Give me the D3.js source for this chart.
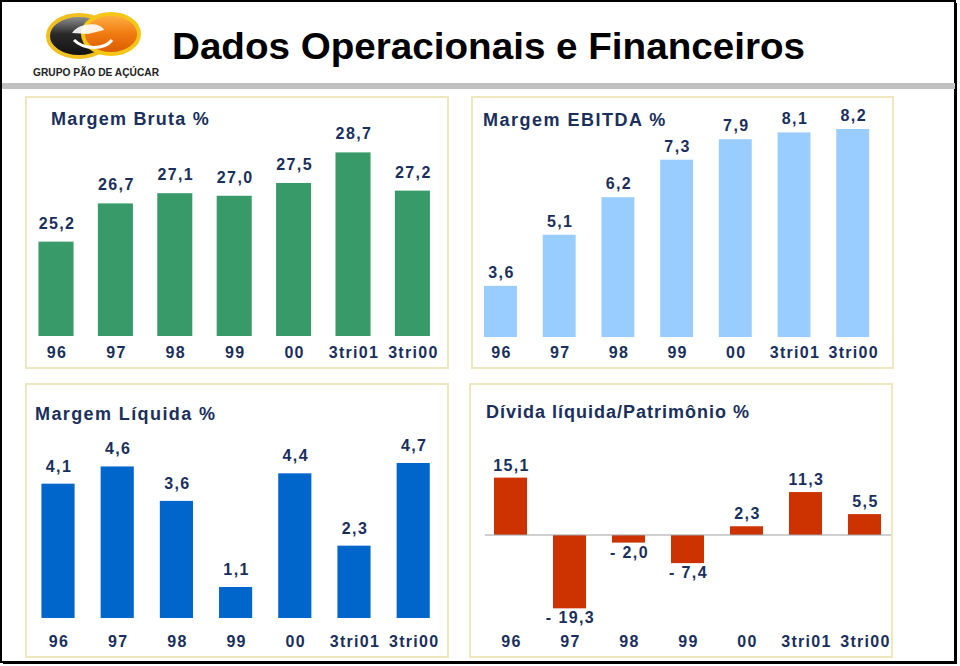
<!DOCTYPE html>
<html>
<head>
<meta charset="utf-8">
<script src="https://cdn.jsdelivr.net/npm/d3@7"></script>
<style>
  html, body { margin: 0; padding: 0; background: #ffffff; }
  svg { display: block; }
</style>
</head>
<body>
<svg id="chart" width="960" height="666"></svg>
<script>
// ---- data ----
const categories = ["96", "97", "98", "99", "00", "3tri01", "3tri00"];
const margemBruta = [25.2, 26.7, 27.1, 27.0, 27.5, 28.7, 27.2];
const margemEbitda = [3.6, 5.1, 6.2, 7.3, 7.9, 8.1, 8.2];
const margemLiquida = [4.1, 4.6, 3.6, 1.1, 4.4, 2.3, 4.7];
const dividaPatrimonio = [15.1, -19.3, -2.0, -7.4, 2.3, 11.3, 5.5];
const panelTitles = ["Margem Bruta %", "Margem EBITDA %", "Margem Líquida %", "Dívida líquida/Patrimônio %"];
const mainTitle = "Dados Operacionais e Financeiros";
const logoText = "GRUPO PÃO DE AÇÚCAR";

const svg = d3.select("#chart");
const navy = "#1a2f5c";
const font = "'Liberation Sans', Arial, sans-serif";

// ---- frame ----
svg.append("rect").attr("x", 1).attr("y", 1).attr("width", 954).attr("height", 661)
  .attr("fill", "#ffffff").attr("stroke", "#000").attr("stroke-width", 2);
svg.append("line").attr("x1", 3).attr("x2", 956).attr("y1", 663).attr("y2", 663)
  .attr("stroke", "#000").attr("stroke-width", 2);
svg.append("line").attr("x1", 956).attr("x2", 956).attr("y1", 3).attr("y2", 664)
  .attr("stroke", "#000").attr("stroke-width", 2);
svg.append("rect").attr("x", 2).attr("y", 83).attr("width", 953).attr("height", 6).attr("fill", "#c0c0c0");

// ---- logo ----
const defs = svg.append("defs");
const gDark = defs.append("linearGradient").attr("id", "gDark").attr("x1", 0).attr("y1", 0).attr("x2", 0).attr("y2", 1);
gDark.append("stop").attr("offset", "0%").attr("stop-color", "#9a9a9a");
gDark.append("stop").attr("offset", "45%").attr("stop-color", "#2a2a2a");
gDark.append("stop").attr("offset", "100%").attr("stop-color", "#101010");
const gOr = defs.append("linearGradient").attr("id", "gOr").attr("x1", 0).attr("y1", 0).attr("x2", 0).attr("y2", 1);
gOr.append("stop").attr("offset", "0%").attr("stop-color", "#ffb347");
gOr.append("stop").attr("offset", "50%").attr("stop-color", "#f07a10");
gOr.append("stop").attr("offset", "100%").attr("stop-color", "#d85a00");
const logo = svg.append("g");
logo.append("ellipse").attr("cx", 79).attr("cy", 36).attr("rx", 31).attr("ry", 21)
  .attr("fill", "url(#gDark)").attr("stroke", "#f0c020").attr("stroke-width", 4);
logo.append("ellipse").attr("cx", 111).attr("cy", 34).attr("rx", 28).attr("ry", 20)
  .attr("fill", "url(#gOr)").attr("stroke", "#f5c518").attr("stroke-width", 4);
logo.append("path").attr("d", "M72,33 C80,22 100,22 104,30 L88,34 Z").attr("fill", "#ffffff").attr("opacity", 0.9);
logo.append("path").attr("d", "M74,40 C84,50 104,50 112,40").attr("fill", "none").attr("stroke", "#ffffff").attr("stroke-width", 3);
logo.append("text").attr("x", 33).attr("y", 76).text(logoText)
  .attr("font-family", font).attr("font-weight", "bold").attr("font-size", 10)
  .attr("fill", "#222").attr("textLength", 126).attr("lengthAdjust", "spacingAndGlyphs");

// ---- main title ----
svg.append("text").attr("x", 172).attr("y", 59).text(mainTitle)
  .attr("font-family", font).attr("font-weight", "bold").attr("font-size", 37).attr("fill", "#000")
  .attr("textLength", 633).attr("lengthAdjust", "spacingAndGlyphs");

// ---- panel helper ----
function panel(cfg) {
  const g = svg.append("g");
  g.append("rect").attr("x", cfg.box[0]).attr("y", cfg.box[1]).attr("width", cfg.box[2]).attr("height", cfg.box[3])
    .attr("fill", "#ffffff").attr("stroke", "#f1e7bd").attr("stroke-width", 2);
  g.append("text").attr("x", cfg.title[0]).attr("y", cfg.title[1]).text(cfg.titleText)
    .attr("font-family", font).attr("font-weight", "bold").attr("font-size", 18).attr("fill", navy)
    .attr("letter-spacing", cfg.titleLs);

  const x = d3.scaleBand().domain(categories).range(cfg.xr).paddingInner(cfg.pi).paddingOuter(0.2);
  const y = d3.scaleLinear().domain(cfg.yd).range(cfg.yr);
  const base = y(cfg.base);

  g.selectAll("rect.bar").data(cfg.values).enter().append("rect").attr("class", "bar")
    .attr("x", (d, i) => x(categories[i]))
    .attr("width", x.bandwidth())
    .attr("y", d => Math.min(y(d), base))
    .attr("height", d => Math.abs(base - y(d)))
    .attr("fill", cfg.color);

  g.selectAll("text.val").data(cfg.values).enter().append("text").attr("class", "val")
    .attr("x", (d, i) => x(categories[i]) + x.bandwidth() / 2 + 1)
    .attr("y", d => d >= 0 ? y(d) - cfg.off : y(d) + 15)
    .attr("text-anchor", "middle")
    .attr("font-family", font).attr("font-weight", "bold").attr("font-size", 16).attr("fill", navy)
    .attr("letter-spacing", 1.4)
    .text(d => (d < 0 ? "- " : "") + d3.format(".1f")(Math.abs(d)).replace(".", ","));

  if (cfg.zero) {
    g.append("line").attr("x1", cfg.zero[0]).attr("x2", cfg.zero[1]).attr("y1", y(0)).attr("y2", y(0))
      .attr("stroke", "#a0a0a0").attr("stroke-width", 1);
  }

  const ax = g.append("g").attr("transform", `translate(0,${cfg.axisY})`)
    .call(d3.axisBottom(x).tickSize(0).tickPadding(0));
  ax.select(".domain").remove();
  ax.selectAll("text").attr("font-family", font).attr("font-weight", "bold").attr("font-size", 16)
    .attr("fill", navy).attr("letter-spacing", 1.3).attr("dy", 0).attr("dx", 1);
}

panel({
  box: [26, 97, 422, 271], title: [51, 125], titleText: panelTitles[0], titleLs: 1.2,
  values: margemBruta, color: "#379a68",
  xr: [26.6, 441.8], pi: 0.41, yd: [21.5, 29.5], yr: [336, 132], base: 21.5, off: 13, axisY: 358
});
panel({
  box: [472, 97, 421, 271], title: [483, 126], titleText: panelTitles[1], titleLs: 1.5,
  values: margemEbitda, color: "#99ccff",
  xr: [472.3, 880.9], pi: 0.44, yd: [2.1, 8.2], yr: [337, 129], base: 2.1, off: 8, axisY: 358
});
panel({
  box: [26, 384, 422, 273], title: [35, 420], titleText: panelTitles[2], titleLs: 1.4,
  values: margemLiquida, color: "#0066cc",
  xr: [29.6, 441.6], pi: 0.44, yd: [0.2, 4.7], yr: [618, 463], base: 0.2, off: 12, axisY: 647
});
panel({
  box: [470, 384, 422, 273], title: [486, 418], titleText: panelTitles[3], titleLs: 1,
  values: dividaPatrimonio, color: "#cc3300",
  xr: [482.2, 892.8], pi: 0.44, yd: [-20, 16], yr: [611, 474.2], base: 0, off: 7, axisY: 647,
  zero: [485, 891]
});
</script>
</body>
</html>
